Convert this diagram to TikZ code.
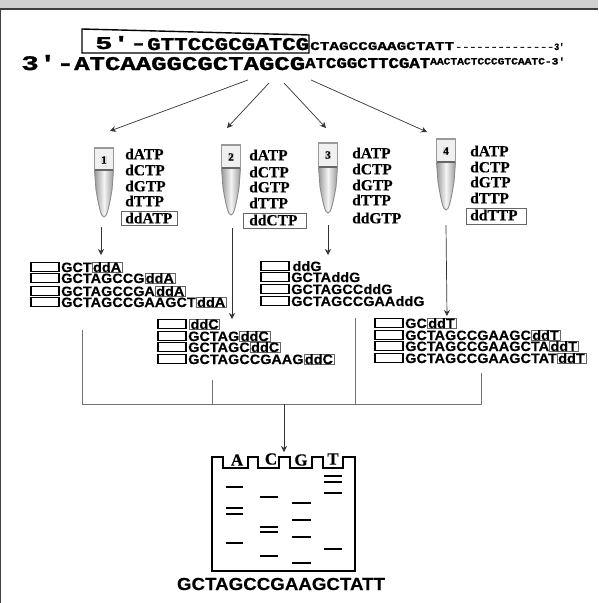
\documentclass[tikz,border=0pt]{standalone}
\usepackage{fontspec}
\usepackage{graphicx}
\setmainfont[BoldFeatures={FakeBold=0.35}]{Liberation Serif}
\newfontfamily\frfont[BoldFeatures={FakeBold=0.3,FakeStretch=1.07}]{Liberation Sans}
\newfontfamily\mnfont[BoldFeatures={FakeBold=1.2}]{Liberation Mono}
\usetikzlibrary{arrows.meta}
\newcommand{\stx}[3]{\resizebox{#1pt}{#2pt}{#3}}
\tikzset{
  conn/.style={draw=black!80,line width=0.7pt,-{Stealth[length=6pt,width=6pt]}},
  collect/.style={draw=black!55,line width=0.9pt},
  seq/.style={inner sep=0pt,anchor=base west,font=\mnfont\bfseries},
  dntp/.style={inner sep=0pt,anchor=west,font=\fontsize{15.5}{16}\selectfont\bfseries},
  ddframe/.style={draw=black!60,line width=0.5pt,fill=none},
  frag/.style={inner sep=0pt,anchor=base west,font=\frfont\fontsize{13.5}{14}\selectfont\bfseries},
  ddbox/.style={frag,draw=black!60,line width=0.4pt,inner xsep=1pt,inner ysep=0.3pt},
  ddplain/.style={frag},
  stub/.style={draw=black,line width=1.6pt,fill=white},
  band/.style={draw=black,line width=1.3pt},
  gel/.style={draw=black,line width=1.7pt,line join=miter},
  lane/.style={inner sep=0pt,font=\fontsize{17}{17}\selectfont\bfseries},
  tubebody/.style={draw=black!45,line width=0.9pt,left color=black!40,right color=black!40,middle color=black!4},
  tubecap/.style={draw=black!40,line width=1.3pt,fill=black!6},
  tubenum/.style={inner sep=0.6pt,fill=black!15,font=\fontsize{11}{11}\selectfont\bfseries},
}
% name, x, y(centre), prefix, ddtext, style
\newcommand{\fragrow}[6]{%
  \draw[stub] (#2,#3-4.5) rectangle (#2+28,#3+4.5);
  \node[frag] (#1p) at (#2+30,#3+5) {#4};
  \node[#6] (#1d) at (#1p.base east) {#5};
}
% name, cx, top, sep, tip, num
\newcommand{\tubeshape}[6]{%
  \path[tubebody] (#2-9.5,#4) -- (#2-8,#4+20) .. controls (#2-5,#5-10) and (#2-3,#5) .. (#2,#5)
     .. controls (#2+3,#5) and (#2+5,#5-10) .. (#2+8,#4+20) -- (#2+9.5,#4) -- cycle;
  \path[tubecap] (#2-9.5,#3) -- (#2+9.5,#3) -- (#2+9.5,#4) -- (#2-9.5,#4) -- cycle;
  \draw[black!60,line width=1.2pt] (#2-9,#4) -- (#2+9,#4);
  \node[tubenum] (#1) at (#2,#3+12) {#6};
}
\begin{document}
\begin{tikzpicture}[x=1pt,y=-1pt]
\useasboundingbox (0,0) rectangle (598,603);
% page frame
\fill[black!18] (0,0) rectangle (598,8.5);
\draw[black!75,line width=1.2pt] (0,9) -- (598,9);
\draw[black!75,line width=1.4pt] (0.5,9) -- (0.5,603);
% top strand
\node[seq] (s5) at (95,49) {\stx{52}{13}{5'-}};
\node[seq] (s5b) at (147,50) {\stx{162}{12}{GTTCCGCGATCG}};
\node[seq] (s5c) at (310,50) {\stx{144}{8}{CTAGCCGAAGCTATT}};
\node[seq] (s5d) at (455,49) {\stx{99}{2}{--------------}};
\node[seq] (s5e) at (554,50) {\stx{10}{7}{3'}};
\draw[black,line width=1.4pt] (82,29) -- (309,35) -- (309,53) -- (82,53) -- cycle;
% bottom strand
\node[seq] (s3) at (21,70) {\stx{53}{15}{3'-}};
\node[seq] (s3b) at (74,70) {\stx{231}{13}{ATCAAGGCGCTAGCG}};
\node[seq] (s3c) at (305,68) {\stx{125}{10}{ATCGGCTTCGAT}};
\node[seq] (s3d) at (430,64.5) {\stx{135}{7}{AACTACTCCCGTCAATC-3'}};
% tubes
\tubeshape{t1}{104}{148}{170}{217}{1}
\tubeshape{t2}{231}{145}{168}{215}{2}
\tubeshape{t3}{328}{143}{167}{213}{3}
\tubeshape{t4}{446}{139}{162}{210}{4}
% upper arrows
\coordinate (u1) at (248,80); \coordinate (u2) at (269,83);
\coordinate (u3) at (284,83); \coordinate (u4) at (311,80);
\coordinate (v1) at (110,131); \coordinate (v2) at (227,128);
\coordinate (v3) at (326,128); \coordinate (v4) at (427,132);
\draw[conn] (u1) -- (v1);
\draw[conn] (u2) -- (v2);
\draw[conn] (u3) -- (v3);
\draw[conn] (u4) -- (v4);
% dNTP lists
\node[dntp] (a1) at (125,154) {dATP};
\node[dntp] (a2) at (125,170) {dCTP};
\node[dntp] (a3) at (125,186) {dGTP};
\node[dntp] (a4) at (125,201) {dTTP};
\node[dntp] (a5) at (125,218) {ddATP};
\draw[ddframe] (121,211) rectangle (177,225);
\node[dntp] (b1) at (249,155) {dATP};
\node[dntp] (b2) at (249,172) {dCTP};
\node[dntp] (b3) at (249,187) {dGTP};
\node[dntp] (b4) at (249,203) {dTTP};
\node[dntp] (b5) at (249,220) {ddCTP};
\draw[ddframe] (243,213) rectangle (306,228);
\node[dntp] (c1) at (352,153) {dATP};
\node[dntp] (c2) at (352,169) {dCTP};
\node[dntp] (c3) at (352,185) {dGTP};
\node[dntp] (c4) at (352,200) {dTTP};
\node[dntp] (c5) at (352,218) {ddGTP};
\node[dntp] (d1) at (470,151) {dATP};
\node[dntp] (d2) at (470,167) {dCTP};
\node[dntp] (d3) at (470,182) {dGTP};
\node[dntp] (d4) at (470,198) {dTTP};
\node[dntp] (d5) at (470,215) {ddTTP};
\draw[ddframe] (466,208) rectangle (526,224);
% down arrows
\coordinate (w1a) at (101,227); \coordinate (w1b) at (101,255);
\coordinate (w2a) at (232,228); \coordinate (w2b) at (232,319);
\coordinate (w3a) at (328,225); \coordinate (w3b) at (328,255);
\coordinate (w4a) at (446,225); \coordinate (w4b) at (447,316);
\draw[conn] (w1a) -- (w1b);
\draw[conn] (w2a) -- (w2b);
\draw[conn] (w3a) -- (w3b);
\draw[conn] (w4a) -- (w4b);
% fragments A
\fragrow{fa1}{31}{267}{GCT}{ddA}{ddbox}
\fragrow{fa2}{31}{278}{GCTAGCCG}{ddA}{ddbox}
\fragrow{fa3}{31}{291}{GCTAGCCGA}{ddA}{ddbox}
\fragrow{fa4}{31}{302}{GCTAGCCGAAGCT}{ddA}{ddbox}
% fragments C
\fragrow{fc1}{158}{324}{}{ddC}{ddbox}
\fragrow{fc2}{158}{336}{GCTAG}{ddC}{ddbox}
\fragrow{fc3}{158}{347}{GCTAGC}{ddC}{ddbox}
\fragrow{fc4}{158}{359}{GCTAGCCGAAG}{ddC}{ddbox}
% fragments G
\fragrow{fg1}{261}{266}{}{ddG}{ddplain}
\fragrow{fg2}{261}{277}{GCTA}{ddG}{ddplain}
\fragrow{fg3}{261}{289}{GCTAGCC}{ddG}{ddplain}
\fragrow{fg4}{261}{301}{GCTAGCCGAA}{ddG}{ddplain}
% fragments T
\fragrow{ft1}{375}{323}{GC}{ddT}{ddbox}
\fragrow{ft2}{375}{335}{GCTAGCCGAAGC}{ddT}{ddbox}
\fragrow{ft3}{375}{346}{GCTAGCCGAAGCTA}{ddT}{ddbox}
\fragrow{ft4}{375}{358}{GCTAGCCGAAGCTAT}{ddT}{ddbox}
% collector
\coordinate (k1) at (82,330); \coordinate (k1b) at (82,404);
\coordinate (k2) at (212,380); \coordinate (k2b) at (212,404);
\coordinate (k3) at (355,318); \coordinate (k3b) at (355,404);
\coordinate (k4) at (481,373); \coordinate (k4b) at (481,404);
\draw[collect] (k1) -- (k1b) -- (k4b) -- (k4);
\draw[collect] (k2) -- (k2b);
\draw[collect] (k3) -- (k3b);
\coordinate (m) at (284,404); \coordinate (gt) at (284,452);
\draw[conn] (m) -- (gt);
% gel
\draw[gel] (223,457) -- (223,468) -- (248,468) -- (248,457) -- (258,457) -- (258,468)
  -- (279,468) -- (279,457) -- (290,457) -- (290,468) -- (312,468) -- (312,457)
  -- (323,457) -- (323,468) -- (343,468) -- (343,457) -- (355,457) -- (355,571)
  -- (212,571) -- (212,457) -- cycle;
\node[lane] (la) at (237,460) {A};
\node[lane] (lc) at (271,459) {C};
\node[lane] (lg) at (301,460) {G};
\node[lane] (lt) at (333,459) {T};
\foreach \yy in {487,508,514,543} \draw[band] (226,\yy) -- (243,\yy);
\foreach \yy in {497,527,532,556} \draw[band] (260,\yy) -- (278,\yy);
\foreach \yy in {503,520,537,563} \draw[band] (292,\yy) -- (311,\yy);
\foreach \yy in {476,482,493,549} \draw[band] (324,\yy) -- (342,\yy);
\node[inner sep=0pt,font=\frfont\fontsize{17.5}{18}\selectfont\bfseries] (res) at (281,584) {GCTAGCCGAAGCTATT};
\end{tikzpicture}
\end{document}
